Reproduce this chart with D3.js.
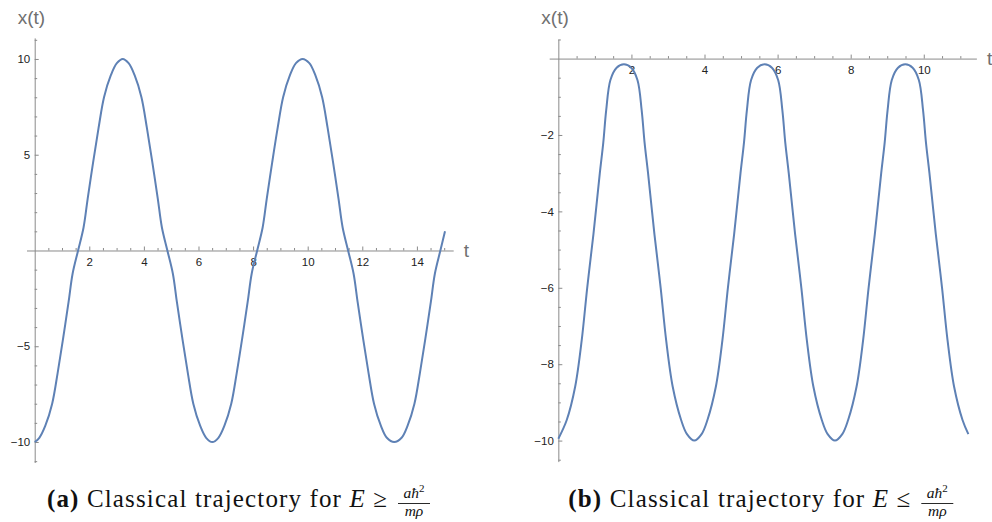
<!DOCTYPE html>
<html><head><meta charset="utf-8">
<script src="https://cdn.jsdelivr.net/npm/d3@7"></script>
<style>body{margin:0;background:#fff}svg{display:block}</style>
</head><body>
<svg id="c" width="992" height="522"></svg>
<script>
// ---- data ----
const tA = [0,0.17,0.39,0.64,0.84,1.04,1.24,1.39,1.59,1.79,1.94,2.14,2.34,2.54,2.79,3.01,3.225,
  3.44,3.66,3.91,4.11,4.31,4.51,4.66,4.86,5.06,5.21,5.41,5.61,5.81,6.06,6.28,6.505,
  6.73,6.95,7.20,7.40,7.60,7.80,7.95,8.15,8.35,8.50,8.70,8.90,9.10,9.35,9.57,9.815,
  10.06,10.28,10.53,10.73,10.93,11.13,11.28,11.48,11.68,11.83,12.03,12.23,12.43,12.68,12.90,13.17,
  13.44,13.66,13.91,14.11,14.31,14.51,14.66,14.86,15.03];
const xA = [-10,-9.78,-9.15,-8.0,-6.4,-4.6,-2.7,-1.2,0,1.2,2.7,4.6,6.4,8.0,9.15,9.78,10,
  9.78,9.15,8.0,6.4,4.6,2.7,1.2,0,-1.2,-2.7,-4.6,-6.4,-8.0,-9.15,-9.78,-10,
  -9.78,-9.15,-8.0,-6.4,-4.6,-2.7,-1.2,0,1.2,2.7,4.6,6.4,8.0,9.15,9.78,10,
  9.78,9.15,8.0,6.4,4.6,2.7,1.2,0,-1.2,-2.7,-4.6,-6.4,-8.0,-9.15,-9.78,-10,
  -9.78,-9.15,-8.0,-6.4,-4.6,-2.7,-1.2,0,1.0];
const tB = [0,0.23,0.46,0.64,0.79,0.96,1.135,1.23,1.31,1.425,1.595,1.795,
  1.995,2.165,2.28,2.36,2.455,2.63,2.80,2.95,3.13,3.36,3.52,3.72,
  3.92,4.08,4.31,4.49,4.64,4.81,4.985,5.08,5.16,5.275,5.445,5.645,
  5.845,6.015,6.13,6.21,6.305,6.48,6.65,6.80,6.98,7.21,7.37,7.57,
  7.77,7.93,8.16,8.34,8.49,8.66,8.835,8.93,9.01,9.125,9.295,9.495,
  9.695,9.865,9.98,10.06,10.155,10.33,10.50,10.65,10.83,11.06,11.22];
const xB = [-9.95,-9.46,-8.59,-7.37,-6.0,-4.6,-3.0,-2.2,-1.35,-0.56,-0.24,-0.15,
  -0.24,-0.56,-1.35,-2.2,-3.0,-4.6,-6.0,-7.37,-8.59,-9.46,-9.83,-10,
  -9.83,-9.46,-8.59,-7.37,-6.0,-4.6,-3.0,-2.2,-1.35,-0.56,-0.24,-0.15,
  -0.24,-0.56,-1.35,-2.2,-3.0,-4.6,-6.0,-7.37,-8.59,-9.46,-9.83,-10,
  -9.83,-9.46,-8.59,-7.37,-6.0,-4.6,-3.0,-2.2,-1.35,-0.56,-0.24,-0.15,
  -0.24,-0.56,-1.35,-2.2,-3.0,-4.6,-6.0,-7.37,-8.59,-9.46,-9.83];
const xTicksA = [2,4,6,8,10,12,14];
const yTicksA = [-10,-5,5,10];
const xTicksB = [2,4,6,8,10];
const yTicksB = [-10,-8,-6,-4,-2];
const yLabel = "x(t)", xLabel = "t";
const captionA = ["(a)", "Classical trajectory for", "E", "≥"];
const captionB = ["(b)", "Classical trajectory for", "E", "≤"];

// ---- drawing ----
const svg = d3.select("#c");
const fmt = d => (d < 0 ? "\u2212" + Math.abs(d) : String(d));

function panel(cfg) {
  const {xs, ys, ts, vs, xMaj, yMaj, xMin, yMin} = cfg;
  const g = svg.append("g");
  const y0 = ys(0), x0 = xs(0);
  g.append("g").attr("transform", `translate(0,${y0})`)
    .call(d3.axisBottom(xs).tickValues(xMin).tickSizeInner(-2.5).tickSizeOuter(0).tickFormat(""))
    .call(s => s.select(".domain").remove());
  g.append("g").attr("transform", `translate(${x0},0)`)
    .call(d3.axisLeft(ys).tickValues(yMin).tickSizeInner(-2.5).tickSizeOuter(0).tickFormat(""))
    .call(s => s.select(".domain").remove());
  g.append("g").attr("transform", `translate(0,${y0})`)
    .call(d3.axisBottom(xs).tickValues(xMaj).tickSizeInner(-4).tickSizeOuter(0).tickPadding(7.5).tickFormat(fmt));
  g.append("g").attr("transform", `translate(${x0},0)`)
    .call(d3.axisLeft(ys).tickValues(yMaj).tickSizeInner(-4).tickSizeOuter(0).tickPadding(4.5).tickFormat(fmt));
  g.selectAll(".tick line").attr("stroke", "#8a8a8a");
  g.selectAll(".domain").attr("stroke", "#8a8a8a");
  g.selectAll(".tick text").attr("fill", "#222").attr("font-family", "Liberation Sans, Arial, sans-serif").attr("font-size", 11.5);
  const pts = ts.map((t, i) => [t, vs[i]]);
  g.append("path").datum(pts)
    .attr("fill", "none").attr("stroke", "#5e81b5").attr("stroke-width", 2)
    .attr("d", d3.line().x(d => xs(d[0])).y(d => ys(d[1])).curve(d3.curveCatmullRom.alpha(0.5)));
  g.append("text").text(yLabel).attr("x", x0 - 17).attr("y", 23.5)
    .attr("font-family", "Liberation Sans, Arial, sans-serif").attr("font-size", 19).attr("fill", "#707070");
  g.append("text").text(xLabel).attr("x", xs.range()[1] + 10.5).attr("y", y0 + 6.5)
    .attr("font-family", "Liberation Sans, Arial, sans-serif").attr("font-size", 19).attr("fill", "#707070");
}

const xsA = d3.scaleLinear().domain([-0.3, 15.33]).range([26.5, 453.2]);
const ysA = d3.scaleLinear().domain([-11.07, 11.1]).range([462.5, 37.9]);
panel({xs: xsA, ys: ysA, ts: tA, vs: xA, xMaj: xTicksA, yMaj: yTicksA,
  xMin: d3.range(0.5, 15.01, 0.5).filter(v => v % 2 !== 0),
  yMin: d3.range(-11, 11.01, 1).filter(v => v % 5 !== 0)});

const xsB = d3.scaleLinear().domain([-0.25, 11.44]).range([549.2, 976.4]);
const ysB = d3.scaleLinear().domain([-10.55, 0.51]).range([461.6, 39.1]);
panel({xs: xsB, ys: ysB, ts: tB, vs: xB, xMaj: xTicksB, yMaj: yTicksB,
  xMin: d3.range(0.5, 11.41, 0.5).filter(v => v % 2 !== 0),
  yMin: d3.range(-10.5, 0.51, 0.5).filter(v => v % 2 !== 0)});

function caption(parts, left, mainW) {
  const fs = 25, serif = "Liberation Serif, Times New Roman, serif";
  const g = svg.append("g");
  const t = g.append("text").attr("x", left).attr("y", 507).attr("font-family", serif)
    .attr("font-size", fs).attr("fill", "#111")
    .attr("textLength", mainW).attr("lengthAdjust", "spacing");
  t.append("tspan").attr("font-weight", "bold").text(parts[0]);
  t.append("tspan").text(" " + parts[1] + " ");
  t.append("tspan").attr("font-style", "italic").text(parts[2]);
  t.append("tspan").text(" " + parts[3]);
  const fx = left + mainW + 11 + 16;
  const num = g.append("text").attr("font-family", serif).attr("font-size", 15.5).attr("text-anchor", "middle")
    .attr("x", fx).attr("y", 498).attr("fill", "#111");
  num.append("tspan").attr("font-style", "italic").text("aħ");
  num.append("tspan").attr("font-size", 11).attr("dy", -6.5).text("2");
  g.append("text").attr("font-family", serif).attr("font-size", 15.5).attr("text-anchor", "middle")
    .attr("x", fx).attr("y", 516).attr("font-style", "italic").attr("fill", "#111").text("mρ");
  g.append("line").attr("x1", fx - 16).attr("x2", fx + 16).attr("y1", 503.5).attr("y2", 503.5)
    .attr("stroke", "#111").attr("stroke-width", 0.9);
}
caption(captionA, 47, 340);
caption(captionB, 568.3, 342);
</script>
</body></html>
